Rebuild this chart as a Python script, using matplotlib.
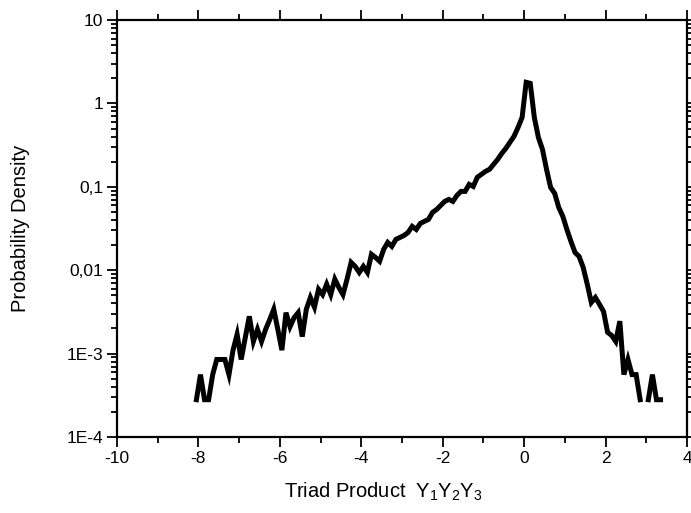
import numpy as np
import matplotlib
matplotlib.use("Agg")
import matplotlib.pyplot as plt
from matplotlib.ticker import FixedLocator, FixedFormatter, LogLocator, MultipleLocator, NullFormatter

plt.rcParams["font.family"] = ["Liberation Sans", "DejaVu Sans"]
plt.rcParams["axes.unicode_minus"] = False

# bin centres of the histogram (width 0.1)
x_start = -8.05
bin_width = 0.1

# probability density per bin (nan = empty bin)
density = [
    2.8e-4, 5.6e-4, 2.8e-4, 2.8e-4, 5.6e-4, 8.5e-4, 8.5e-4, 8.5e-4, 5.6e-4, 1.1e-3,
    1.7e-3, 8.5e-4, 1.55e-3, 2.8e-3, 1.4e-3, 1.95e-3, 1.4e-3, 1.95e-3, 2.55e-3, 3.4e-3,
    1.95e-3, 1.1e-3, 3.1e-3, 2.1e-3, 2.7e-3, 3.1e-3, 1.6e-3, 3.4e-3, 4.7e-3, 3.6e-3,
    5.9e-3, 5.1e-3, 6.8e-3, 5.1e-3, 7.8e-3, 6.2e-3, 5.1e-3, 7.8e-3, 0.0124, 0.0111,
    9.4e-3, 0.0111, 9.4e-3, 0.0155, 0.0142, 0.0128, 0.0178, 0.0215, 0.0193, 0.0234,
    0.0247, 0.0261, 0.0284, 0.0335, 0.0308, 0.0364, 0.0385, 0.0407, 0.0493, 0.0535,
    0.0598, 0.0668, 0.0706, 0.0668, 0.0789, 0.0881, 0.0881, 0.107, 0.101, 0.130,
    0.141, 0.153, 0.162, 0.186, 0.213, 0.251, 0.289, 0.341, 0.402, 0.515,
    0.679, 1.79, 1.74, 0.679, 0.391, 0.281, 0.162, 0.0984, 0.0834, 0.0566,
    0.0442, 0.0308, 0.0221, 0.0163, 0.0146, 0.0108, 6.8e-3, 4.1e-3, 4.7e-3, 3.9e-3,
    3.2e-3, 1.8e-3, 1.65e-3, 1.4e-3, 2.45e-3, 5.6e-4, 8.5e-4, 5.6e-4, 5.6e-4, 2.8e-4,
    np.nan, 2.8e-4, 5.6e-4, 2.8e-4, 2.8e-4,
]
x = x_start + bin_width * np.arange(len(density))

y_ticks = [1e-4, 1e-3, 1e-2, 1e-1, 1, 10]
y_tick_labels = ["1E-4", "1E-3", "0,01", "0,1", "1", "10"]

fig = plt.figure(figsize=(6.91, 5.13), dpi=100)
ax = fig.add_axes([117/691, 1 - 437/513, 570/691, 417/513])

ax.plot(x, density, color="black", lw=3.6, solid_joinstyle="miter")

ax.set_yscale("log")
ax.set(xlim=(-10, 4), ylim=(1e-4, 10))
ax.xaxis.set_major_locator(MultipleLocator(2))
ax.xaxis.set_minor_locator(MultipleLocator(1))
ax.yaxis.set_major_locator(FixedLocator(y_ticks))
ax.yaxis.set_major_formatter(FixedFormatter(y_tick_labels))
ax.yaxis.set_minor_locator(LogLocator(base=10, subs=np.arange(2, 10)))
ax.yaxis.set_minor_formatter(NullFormatter())

ax.tick_params(which="both", direction="out", top=True, right=True,
               labelsize=12.5, width=1.3, pad=3)
ax.tick_params(which="major", length=7)
ax.tick_params(which="minor", length=4)
for s in ax.spines.values():
    s.set_linewidth(1.6)

ax.set_xlabel(r"Triad Product  $\mathregular{Y_1Y_2Y_3}$", fontsize=14.5)
ax.xaxis.set_label_coords(0.467, -0.105)
ax.set_ylabel("Probability Density", fontsize=14.5)
ax.yaxis.set_label_coords(-0.152, 0.5)

fig.savefig("out.png", dpi=100)
